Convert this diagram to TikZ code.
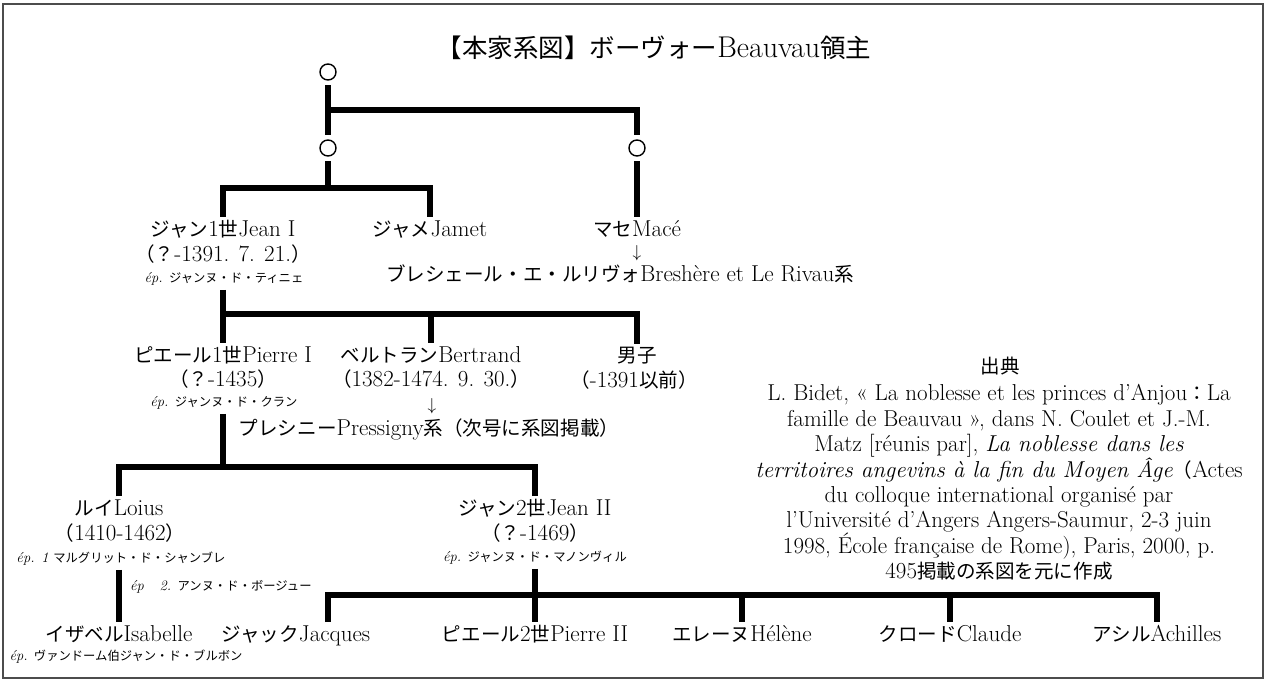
\documentclass[tikz,border=0pt]{standalone}
\usepackage{fontspec}
\newfontfamily\jpfont{Noto Sans CJK JP}[Scale=0.85]
\newcommand\JP[1]{{\jpfont #1}}
\begin{document}
\begin{tikzpicture}[x=1pt,y=-1pt,
  fam/.style={line width=6pt},
  circ/.style={circle,draw,line width=1.4pt,minimum size=16pt,inner sep=0pt,outer sep=5pt},
  nm/.style={font=\fontsize{23}{25}\selectfont,inner sep=0pt,outer sep=3pt,anchor=base},
  sm/.style={font=\fontsize{14.5}{16}\selectfont,inner sep=0pt,outer sep=5pt,anchor=base},
  arr/.style={font=\fontsize{17}{19}\selectfont,inner sep=0pt,outer sep=0pt,anchor=center},
  src/.style={font=\fontsize{23}{25.4}\selectfont,inner sep=0pt,align=center}]
\useasboundingbox (0,0) rectangle (1266,681);
\draw[line width=1.5pt,black!70] (3,4) rectangle (1263,678);

% title
\node[font=\fontsize{30}{32}\selectfont,inner sep=0pt,anchor=base] (title) at (654,57) {\JP{【本家系図】ボーヴォー}Beauvau\JP{領主}};

% circles
\node[circ] (c0) at (328,72) {};
\node[circ] (c1) at (328,148) {};
\node[circ] (c2) at (637,148) {};

% generation 2
\node[nm] (jean1) at (223,236) {\JP{ジャン}1\JP{世}Jean I};
\node[nm] (jean1d) at (223,261) {\JP{（？}-1391. 7. 21.\JP{）}};
\node[sm] (jean1e) at (224,282) {\textit{ép.} \JP{ジャンヌ・ド・ティニェ}};
\node[nm] (jamet) at (430,236) {\JP{ジャメ}Jamet};
\node[nm] (mace) at (637,236) {\JP{マセ}Macé};
\node[arr] (macearr) at (637,253) {$\downarrow$};
\node[nm] (bresh) at (620,281) {\JP{ブレシェール・エ・ルリヴォ}Breshère et Le Rivau\JP{系}};

% generation 3
\node[nm] (pierre1) at (223,362) {\JP{ピエール}1\JP{世}Pierre I};
\node[nm] (pierre1d) at (223,386) {\JP{（？}-1435\JP{）}};
\node[sm] (pierre1e) at (224,406) {\textit{ép.} \JP{ジャンヌ・ド・クラン}};
\node[nm] (bert) at (431,362) {\JP{ベルトラン}Bertrand};
\node[nm] (bertd) at (431,386) {\JP{（}1382-1474. 9. 30.\JP{）}};
\node[arr] (bertarr) at (432,406) {$\downarrow$};
\node[nm] (press) at (429,435) {\JP{プレシニー}Pressigny\JP{系（次号に系図掲載）}};
\node[nm] (boy) at (637,362) {\JP{男子}};
\node[nm] (boyd) at (634,387) {\JP{（}-1391\JP{以前）}};

% generation 4
\node[nm] (louis) at (119,515) {\JP{ルイ}Loius};
\node[nm] (louisd) at (120,540) {\JP{（}1410-1462\JP{）}};
\node[sm] (louise1) at (121,562) {\textit{ép. 1} \JP{マルグリット・ド・シャンブレ}};
\node[sm,anchor=base west] (louise2) at (125,590) {\textit{ép}\hspace{1.1em}\textit{2.} \JP{アンヌ・ド・ボージュー}};
\node[nm] (jean2) at (535,515) {\JP{ジャン}2\JP{世}Jean II};
\node[nm] (jean2d) at (535,540) {\JP{（？}-1469\JP{）}};
\node[sm] (jean2e) at (535,561) {\textit{ép.} \JP{ジャンヌ・ド・マノンヴィル}};

% generation 5
\node[nm] (isab) at (119,641) {\JP{イザベル}Isabelle};
\node[sm] (isabe) at (126,660) {\textit{ép.} \JP{ヴァンドーム伯ジャン・ド・ブルボン}};
\node[nm] (jacq) at (296,641) {\JP{ジャック}Jacques};
\node[nm] (pierre2) at (535,641) {\JP{ピエール}2\JP{世}Pierre II};
\node[nm] (helene) at (742,641) {\JP{エレーヌ}Hélène};
\node[nm] (claude) at (950,641) {\JP{クロード}Claude};
\node[nm] (achil) at (1157,641) {\JP{アシル}Achilles};

% source
\node[nm] (srct) at (1000,373) {\JP{出典}};
\node[src,anchor=north] (srcb) at (999,384.5) {L. Bidet, « La noblesse et les princes d’Anjou\JP{：}La\\
famille de Beauvau », dans N. Coulet et J.-M.\\
Matz [réunis par], \textit{La noblesse dans les}\\
\textit{territoires angevins à la fin du Moyen Âge}\JP{（}Actes\\
du colloque international organisé par\\
l’Université d’Angers Angers-Saumur, 2-3 juin\\
1998, École française de Rome), Paris, 2000, p.\\
495\JP{掲載の系図を元に作成}};

% connectors
\coordinate (b0) at (328,110);
\coordinate (b1) at (328,188);
\coordinate (b2) at (0,314);
\coordinate (b3) at (0,467);
\coordinate (jq) at (328,595);

\draw[fam] (c0) -- (c1);
\draw[fam] (b0) -| (c2.north);
\draw[fam] (c1.south) -- (b1);
\draw[fam] (jean1.north) |- (b1) -| (jamet.north);
\draw[fam] (c2.south) -- (mace.north);

\draw[fam] (jean1e.south -| jean1.north) -- (pierre1.north);
\draw[fam] (pierre1.north |- b2) -| (boy.north);
\draw[fam] (bert.north |- b2) -- (bert.north);

\draw[fam] (pierre1e.south -| pierre1.north) -- (pierre1.north |- b3);
\draw[fam] (louis.north) -- (louis.north |- b3) -- (jean2.north |- b3) -- (jean2.north);

\draw[fam] (louise1.south -| louis.north) -- (isab.north);
\draw[fam] (jean2e.south -| jean2.north) -- (pierre2.north);
\draw[fam] (jacq.north -| jq) -- (jq) -- (achil.north |- jq) -- (achil.north);
\draw[fam] (helene.north |- jq) -- (helene.north);
\draw[fam] (claude.north |- jq) -- (claude.north);
\end{tikzpicture}
\end{document}
